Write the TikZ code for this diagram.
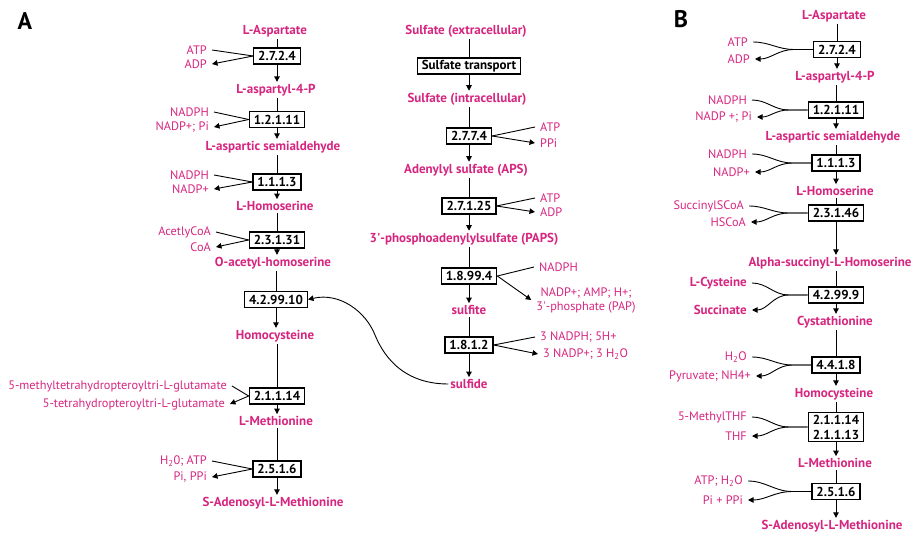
\documentclass[tikz,border=0pt]{standalone}
\usepackage{fontspec}
\setmainfont{PT Sans}
\usetikzlibrary{arrows.meta}
\definecolor{metab}{RGB}{214,38,128}
\newcommand\lblfont{\fontsize{12.3}{14}\selectfont}
\newcommand\boldfont{\fontsize{13}{15}\selectfont\bfseries}

\begin{document}
\begin{tikzpicture}[x=1pt,y=-1pt,
  ec/.style={draw, line width=1.2pt, font=\boldfont, inner xsep=4.5pt, inner ysep=2pt, minimum height=16pt},
  met/.style={text=metab, font=\boldfont, inner sep=2pt},
  cof/.style={text=metab, font=\lblfont, inner xsep=5pt, inner ysep=1pt},
  cofb/.style={cof, font=\boldfont},
  lnk/.style={line width=0.9pt},
  arr/.style={line width=0.9pt, -{Triangle[length=5.5pt,width=5.5pt]}},
  panel/.style={font=\fontsize{24}{28}\selectfont\bfseries}]
\useasboundingbox (0,0) rectangle (917,534);

\node[panel] (pa) at (25,21) {A};
\node[panel] (pb) at (681,19) {B};

\node[met] (asp) at (275,31) {L-Aspartate};
\node[ec] (e2724) at (277,56) {2.7.2.4};
\node[met] (asp4p) at (276,90) {L-aspartyl-4-P};
\node[ec] (e12111) at (277,119.5) {1.2.1.11};
\node[met] (asa) at (273,147) {L-aspartic semialdehyde};
\node[ec] (e1113) at (277,182) {1.1.1.3};
\node[met] (hser) at (275,206) {L-Homoserine};
\node[ec] (e23131) at (277,240) {2.3.1.31};
\node[met] (oah) at (273,263) {O-acetyl-homoserine};
\node[ec] (e42910) at (276,299.5) {4.2.99.10};
\node[met] (hcys) at (275,336) {Homocysteine};
\node[ec] (e21114) at (277,396) {2.1.1.14};
\node[met] (lmet) at (276,421) {L-Methionine};
\node[ec] (e2516) at (277,469) {2.5.1.6};
\node[met] (sam) at (273,503) {S-Adenosyl-L-Methionine};

\node[cof, anchor=east] (atp1) at (212,50) {ATP};
\node[cof, anchor=east] (adp1) at (212,64) {ADP};
\node[cof, anchor=east] (nadph1) at (214,112) {NADPH};
\node[cof, anchor=east] (nadp1) at (214,127) {NADP+; Pi};
\node[cof, anchor=east] (nadph2) at (214,175) {NADPH};
\node[cof, anchor=east] (nadp2) at (214,189) {NADP+};
\node[cof, anchor=east] (accoa) at (216,232) {AcetlyCoA};
\node[cof, anchor=east] (coa) at (216,247) {CoA};
\node[cof, anchor=east] (mthf) at (232,386) {5-methyltetrahydropteroyltri-L-glutamate};
\node[cof, anchor=east] (thf) at (230,404) {5-tetrahydropteroyltri-L-glutamate};
\node[cof, anchor=east] (atp3) at (212,461) {H\textsubscript{2}0; ATP};
\node[cof, anchor=east] (ppi3) at (212,477) {Pi, PPi};

\draw[lnk] (e2724.north |- asp.south) -- (e2724.north);
\draw[arr] (e2724.south) -- (e2724.south |- asp4p.north);
\draw[lnk] (e12111.north |- asp4p.south) -- (e12111.north);
\draw[arr] (e12111.south) -- (e12111.south |- asa.north);
\draw[lnk] (e1113.north |- asa.south) -- (e1113.north);
\draw[arr] (e1113.south) -- (e1113.south |- hser.north);
\draw[lnk] (e23131.north |- hser.south) -- (e23131.north);
\draw[arr] (e23131.south) -- (e23131.south |- oah.north);
\draw[lnk] (e42910.north |- oah.south) -- (e42910.north);
\draw[arr] (e42910.south) -- (e42910.south |- hcys.north);
\draw[lnk] (e21114.north |- hcys.south) -- (e21114.north);
\draw[arr] (e21114.south) -- (e21114.south |- lmet.north);
\draw[lnk] (e2516.north |- lmet.south) -- (e2516.north);
\draw[arr] (e2516.south) -- (e2516.south |- sam.north);

\draw[lnk] (atp1.east) -- (e2724.west);
\draw[arr] (e2724.west) -- (adp1.east);
\draw[lnk] (nadph1.east) -- (e12111.west);
\draw[arr] (e12111.west) -- (nadp1.east);
\draw[lnk] (nadph2.east) -- (e1113.west);
\draw[arr] (e1113.west) -- (nadp2.east);
\draw[lnk] (accoa.east) -- (e23131.west);
\draw[arr] (e23131.west) -- (coa.east);
\draw[lnk] (mthf.east) -- (e21114.west);
\draw[arr] (e21114.west) -- (thf.east);
\draw[lnk] (atp3.east) -- (e2516.west);
\draw[arr] (e2516.west) -- (ppi3.east);

\node[met] (so4out) at (466,31) {Sulfate (extracellular)};
\node[ec] (tsp) at (469,66) {Sulfate transport};
\node[met] (so4in) at (467,99) {Sulfate (intracellular)};
\node[ec] (e2774) at (469,136) {2.7.7.4};
\node[met] (aps) at (466,170) {Adenylyl sulfate (APS)};
\node[ec] (e27125) at (469,206) {2.7.1.25};
\node[met] (paps) at (464,239) {3\textquotesingle-phosphoadenylylsulfate (PAPS)};
\node[ec] (e18994) at (469,276) {1.8.99.4};
\node[met] (so3) at (469,310) {sulfite};
\node[ec] (e1812) at (469,345) {1.8.1.2};
\node[met] (s2) at (469,384) {sulfide};

\node[cof, anchor=west] (atp4) at (535,127) {ATP};
\node[cof, anchor=west] (ppi4) at (535,143) {PPi};
\node[cof, anchor=west] (atp5) at (535,198) {ATP};
\node[cof, anchor=west] (adp5) at (535,212) {ADP};
\node[cof, anchor=west] (nadph6) at (534,267) {NADPH};
\node[cof, align=center] (pap) at (586,300) {NADP+; AMP; H+;\\3\textquotesingle-phosphate (PAP)};
\node[cof, anchor=west] (nadph7) at (535,337) {3 NADPH; 5H+};
\node[cof, anchor=west] (nadp7) at (538,354) {3 NADP+; 3 H\textsubscript{2}O};

\draw[lnk] (tsp.north |- so4out.south) -- (tsp.north);
\draw[arr] (tsp.south) -- (tsp.south |- so4in.north);
\draw[lnk] (e2774.north |- so4in.south) -- (e2774.north);
\draw[arr] (e2774.south) -- (e2774.south |- aps.north);
\draw[lnk] (e27125.north |- aps.south) -- (e27125.north);
\draw[arr] (e27125.south) -- (e27125.south |- paps.north);
\draw[lnk] (e18994.north |- paps.south) -- (e18994.north);
\draw[arr] (e18994.south) -- (e18994.south |- so3.north);
\draw[lnk] (e1812.north |- so3.south) -- (e1812.north);
\draw[arr] (e1812.south) -- (e1812.south |- s2.north);

\draw[lnk] (e2774.east) -- (atp4.west);
\draw[arr] (e2774.east) -- (ppi4.west);
\draw[lnk] (e27125.east) -- (atp5.west);
\draw[arr] (e27125.east) -- (adp5.west);
\draw[lnk] (e18994.east) -- (nadph6.west);
\draw[arr] (e18994.east) -- (pap.west);
\draw[lnk] (e1812.east) -- (nadph7.west);
\draw[arr] (e1812.east) -- (nadp7.west);

\draw[arr] (s2.west) .. controls (400,384) and (382,352) .. (375,335)
  .. controls (366,312) and (340,292) .. (e42910.east);

\node[met] (basp) at (834,16) {L-Aspartate};
\node[ec] (b2724) at (837,49.5) {2.7.2.4};
\node[met] (basp4p) at (835,77) {L-aspartyl-4-P};
\node[ec] (b12111) at (836,110) {1.2.1.11};
\node[met] (basa) at (833,137) {L-aspartic semialdehyde};
\node[ec] (b1113) at (836,163) {1.1.1.3};
\node[met] (bhser) at (835,191) {L-Homoserine};
\node[ec] (b23146) at (836,213) {2.3.1.46};
\node[met] (bash) at (830,263) {Alpha-succinyl-L-Homoserine};
\node[ec] (b42999) at (836,295) {4.2.99.9};
\node[met] (bcth) at (835,322) {Cystathionine};
\node[ec] (b4418) at (836,365) {4.4.1.8};
\node[met] (bhcys) at (834,394) {Homocysteine};
\node[ec, align=center] (b2111) at (836,427) {2.1.1.14\\2.1.1.13};
\node[met] (bmet) at (835,463) {L-Methionine};
\node[ec] (b2516) at (836,491.5) {2.5.1.6};
\node[met] (bsam) at (832,526) {S-Adenosyl-L-Methionine};

\node[cof, anchor=east] (batp1) at (753,42) {ATP};
\node[cof, anchor=east] (badp1) at (755,59) {ADP};
\node[cof, anchor=east] (bnadph1) at (752,100) {NADPH};
\node[cof, anchor=east] (bnadp1) at (757,117) {NADP +; Pi};
\node[cof, anchor=east] (bnadph2) at (752,154) {NADPH};
\node[cof, anchor=east] (bnadp2) at (755,172) {NADP+};
\node[cof, anchor=east] (bsucoa) at (749,206) {SuccinylSCoA};
\node[cof, anchor=east] (bhscoa) at (751,222) {HSCoA};
\node[cofb, anchor=east] (bcys) at (752,283) {L-Cysteine};
\node[cofb, anchor=east] (bsuc) at (752,310) {Succinate};
\node[cof, anchor=east] (bh2o) at (752,357) {H\textsubscript{2}O};
\node[cof, anchor=east] (bpyr) at (756,376) {Pyruvate; NH4+};
\node[cof, anchor=east] (bmthf) at (752,417) {5-MethylTHF};
\node[cof, anchor=east] (bthf) at (752,436) {THF};
\node[cof, anchor=east] (batp8) at (748,481) {ATP; H\textsubscript{2}O};
\node[cof, anchor=east] (bppi8) at (748,500) {Pi + PPi};

\draw[lnk] (b2724.north |- basp.south) -- (b2724.north);
\draw[arr] (b2724.south) -- (b2724.south |- basp4p.north);
\draw[lnk] (b12111.north |- basp4p.south) -- (b12111.north);
\draw[arr] (b12111.south) -- (b12111.south |- basa.north);
\draw[lnk] (b1113.north |- basa.south) -- (b1113.north);
\draw[arr] (b1113.south) -- (b1113.south |- bhser.north);
\draw[lnk] (b23146.north |- bhser.south) -- (b23146.north);
\draw[arr] (b23146.south) -- (b23146.south |- bash.north);
\draw[lnk] (b42999.north |- bash.south) -- (b42999.north);
\draw[arr] (b42999.south) -- (b42999.south |- bcth.north);
\draw[lnk] (b4418.north |- bcth.south) -- (b4418.north);
\draw[arr] (b4418.south) -- (b4418.south |- bhcys.north);
\draw[lnk] (b2111.north |- bhcys.south) -- (b2111.north);
\draw[arr] (b2111.south) -- (b2111.south |- bmet.north);
\draw[lnk] (b2516.north |- bmet.south) -- (b2516.north);
\draw[arr] (b2516.south) -- (b2516.south |- bsam.north);

\coordinate (j1) at ([xshift=-19pt]b2724.west);
\coordinate (j2) at ([xshift=-19pt]b12111.west);
\coordinate (j3) at ([xshift=-19pt]b1113.west);
\coordinate (j4) at ([xshift=-19pt]b23146.west);
\coordinate (j5) at ([xshift=-19pt]b42999.west);
\coordinate (j6) at ([xshift=-19pt]b4418.west);
\coordinate (j7) at ([xshift=-19pt]b2111.west);
\coordinate (j8) at ([xshift=-19pt]b2516.west);

\draw[lnk] (batp1.east) to[out=0,in=180] (j1) -- (b2724.west);
\draw[arr] (b2724.west) -- (j1) to[out=180,in=0] (badp1.east);
\draw[lnk] (bnadph1.east) to[out=0,in=180] (j2) -- (b12111.west);
\draw[arr] (b12111.west) -- (j2) to[out=180,in=0] (bnadp1.east);
\draw[lnk] (bnadph2.east) to[out=0,in=180] (j3) -- (b1113.west);
\draw[arr] (b1113.west) -- (j3) to[out=180,in=0] (bnadp2.east);
\draw[lnk] (bsucoa.east) to[out=0,in=180] (j4) -- (b23146.west);
\draw[arr] (b23146.west) -- (j4) to[out=180,in=0] (bhscoa.east);
\draw[lnk] (bcys.east) to[out=0,in=180] (j5) -- (b42999.west);
\draw[arr] (b42999.west) -- (j5) to[out=180,in=0] (bsuc.east);
\draw[lnk] (bh2o.east) to[out=0,in=180] (j6) -- (b4418.west);
\draw[arr] (b4418.west) -- (j6) to[out=180,in=0] (bpyr.east);
\draw[lnk] (bmthf.east) to[out=0,in=180] (j7) -- (b2111.west);
\draw[arr] (b2111.west) -- (j7) to[out=180,in=0] (bthf.east);
\draw[lnk] (batp8.east) to[out=0,in=180] (j8) -- (b2516.west);
\draw[arr] (b2516.west) -- (j8) to[out=180,in=0] (bppi8.east);
\end{tikzpicture}
\end{document}
